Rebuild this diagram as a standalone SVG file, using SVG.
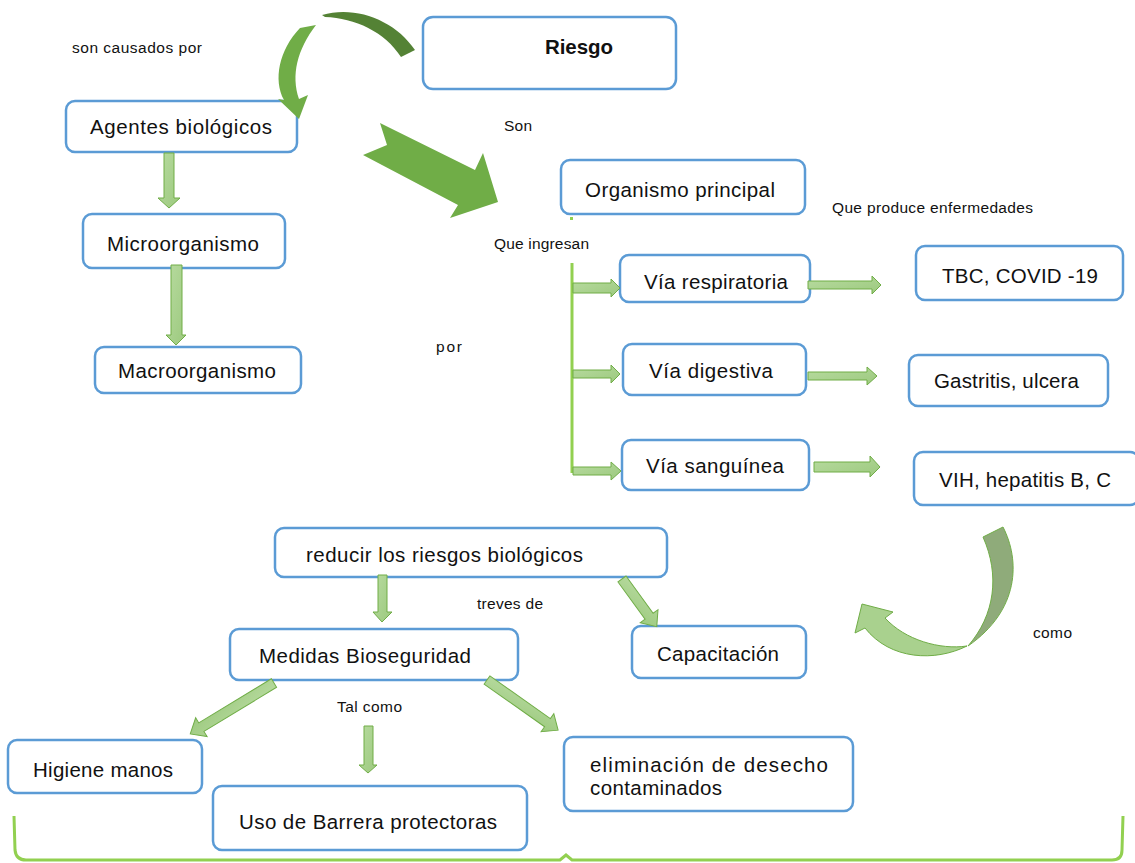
<svg xmlns="http://www.w3.org/2000/svg" width="1135" height="863" viewBox="0 0 1135 863">
<style>
.box{fill:#fff;stroke:#5b9bd5;stroke-width:2.5}
.t{font-family:"Liberation Sans",Arial,sans-serif;font-size:20.5px;fill:#111}
.s{font-family:"Liberation Sans",Arial,sans-serif;font-size:15.5px;fill:#111}
.b{fill:url(#ga);stroke:#70ad47;stroke-width:1}
.line{fill:none;stroke:#92d050;stroke-width:3}
</style>
<defs>
<linearGradient id="ga" x1="0" y1="0" x2="1" y2="1">
<stop offset="0" stop-color="#b8dba0"/>
<stop offset="1" stop-color="#9cc97e"/>
</linearGradient>
</defs>
<rect width="1135" height="863" fill="#fff"/>

<g id="labels">
<text class="s" x="72" y="53" textLength="130" lengthAdjust="spacing">son causados por</text>
<text class="s" x="504" y="131" textLength="28" lengthAdjust="spacing">Son</text>
<text class="s" x="832" y="213" textLength="201" lengthAdjust="spacing">Que produce enfermedades</text>
<text class="s" x="494" y="249" textLength="95" lengthAdjust="spacing">Que ingresan</text>
<text class="s" x="436" y="352" textLength="26" lengthAdjust="spacing">por</text>
<text class="s" x="477" y="609" textLength="66" lengthAdjust="spacing">treves de</text>
<text class="s" x="337" y="712" textLength="65" lengthAdjust="spacing">Tal como</text>
<text class="s" x="1033" y="638" textLength="39" lengthAdjust="spacing">como</text>
</g>

<g id="riesgo"><rect class="box" x="423" y="17" width="253" height="72" rx="10"/><text class="t" x="545" y="54" font-weight="bold" textLength="68" lengthAdjust="spacing">Riesgo</text></g>
<g id="agentes"><rect class="box" x="66" y="101" width="231" height="51" rx="9"/><text class="t" x="90" y="134" textLength="182" lengthAdjust="spacing">Agentes biológicos</text></g>
<g id="micro"><rect class="box" x="83" y="214" width="202" height="54" rx="9"/><text class="t" x="107" y="251" textLength="152" lengthAdjust="spacing">Microorganismo</text></g>
<g id="macro"><rect class="box" x="95" y="347" width="206" height="46" rx="9"/><text class="t" x="118" y="378" textLength="158" lengthAdjust="spacing">Macroorganismo</text></g>
<g id="organismo"><rect class="box" x="561" y="160" width="244" height="54" rx="9"/><text class="t" x="585" y="197" textLength="190" lengthAdjust="spacing">Organismo principal</text></g>
<g id="via-resp"><rect class="box" x="620" y="255" width="190" height="47" rx="9"/><text class="t" x="644" y="289" textLength="144" lengthAdjust="spacing">Vía respiratoria</text></g>
<g id="via-dig"><rect class="box" x="623" y="344" width="183" height="51" rx="9"/><text class="t" x="649" y="378" textLength="124" lengthAdjust="spacing">Vía digestiva</text></g>
<g id="via-sang"><rect class="box" x="622" y="440" width="187" height="50" rx="9"/><text class="t" x="646" y="473" textLength="138" lengthAdjust="spacing">Vía sanguínea</text></g>
<g id="tbc"><rect class="box" x="916" y="246" width="207" height="54" rx="9"/><text class="t" x="942" y="283" textLength="156" lengthAdjust="spacing">TBC, COVID -19</text></g>
<g id="gastritis"><rect class="box" x="909" y="355" width="199" height="51" rx="9"/><text class="t" x="934" y="388" textLength="145" lengthAdjust="spacing">Gastritis, ulcera</text></g>
<g id="vih"><rect class="box" x="914" y="452" width="225" height="53" rx="9"/><text class="t" x="939" y="487" textLength="172" lengthAdjust="spacing">VIH, hepatitis B, C</text></g>
<g id="reducir"><rect class="box" x="275" y="528" width="392" height="49" rx="9"/><text class="t" x="306" y="562" textLength="277" lengthAdjust="spacing">reducir los riesgos biológicos</text></g>
<g id="medidas"><rect class="box" x="230" y="629" width="288" height="51" rx="9"/><text class="t" x="259" y="663" textLength="212" lengthAdjust="spacing">Medidas Bioseguridad</text></g>
<g id="capacitacion"><rect class="box" x="632" y="626" width="174" height="52" rx="9"/><text class="t" x="657" y="661" textLength="122" lengthAdjust="spacing">Capacitación</text></g>
<g id="higiene"><rect class="box" x="8" y="740" width="194" height="53" rx="9"/><text class="t" x="33" y="777" textLength="140" lengthAdjust="spacing">Higiene manos</text></g>
<g id="barrera"><rect class="box" x="213" y="786" width="314" height="64" rx="9"/><text class="t" x="239" y="829" textLength="258" lengthAdjust="spacing">Uso de Barrera protectoras</text></g>
<g id="eliminacion"><rect class="box" x="564" y="737" width="289" height="74" rx="9"/><text class="t" x="590" y="772" textLength="238" lengthAdjust="spacing">eliminación de desecho</text><text class="t" x="590" y="795" textLength="132" lengthAdjust="spacing">contaminados</text></g>

<g id="connectors">
<path d="M322,15 C355,5 395,20 415,50 L401,57 C385,32 355,18 325,17 Z" fill="#548235"/>
<path d="M300,28 C279,50 273,80 284,100 L278,99 L299,119 L308,95 L299,99 C291,75 297,50 316,25 Z" fill="#70ad47"/>
<polygon points="380,123 475,170 483,153 498,202 450,218 458,205 363,155 387,145" fill="#70ad47"/>
<path d="M983,537 L1003,527 C1020,560 1020,610 968,646 C995,615 1000,575 983,537 Z" fill="#8fab7a" stroke="#70ad47" stroke-width="1"/>
<path d="M967,646 C935,662 890,660 865,628 L855,633 L862,604 L893,612 L885,618 C905,640 940,650 967,646 Z" fill="#a9d18e" stroke="#70ad47" stroke-width="1"/>
<line class="line" x1="572" y1="263" x2="572" y2="473"/>
<rect x="570" y="217" width="3" height="3" fill="#92d050"/>
<path class="line" d="M14,816 L15,850 Q16,860 26,860 L560,860 L566,855 L572,860 L1112,860 Q1122,860 1122,850 L1123,816"/>
<polygon class="b" points="164,153 174,153 174,198 180,198 169,208 158,198 164,198"/>
<polygon class="b" points="171,265 182,265 182,335 186,335 176,345 166,335 171,335"/>
<polygon class="b" points="378,575 387,575 387,612 392,612 382,622 373,612 378,612"/>
<polygon class="b" points="364,726 373,726 373,765 377,765 368,773 359,765 364,765"/>
<polygon class="b" points="573,283 611,283 611,279 620,288 611,297 611,293 573,293"/>
<polygon class="b" points="573,370 611,370 611,365 620,374 611,383 611,378 573,378"/>
<polygon class="b" points="573,467 611,467 611,462 621,471 611,480 611,475 573,475"/>
<polygon class="b" points="808,281 872,281 872,276 881,285 872,294 872,289 808,289"/>
<polygon class="b" points="808,372 867,372 867,367 877,376 867,385 867,380 808,380"/>
<polygon class="b" points="814,462 870,462 870,456 880,467 870,477 870,472 814,472"/>
<polygon class="b" transform="translate(622,579) rotate(53.9)" points="0,-5 46,-5 46,-11 59,0 46,11 46,5 0,5"/>
<polygon class="b" transform="translate(274,683) rotate(148.7)" points="0,-5 85,-5 85,-11 98,0 85,11 85,5 0,5"/>
<polygon class="b" transform="translate(487,680) rotate(35.2)" points="0,-5 74,-5 74,-11 87,0 74,11 74,5 0,5"/>
</g>
</svg>
